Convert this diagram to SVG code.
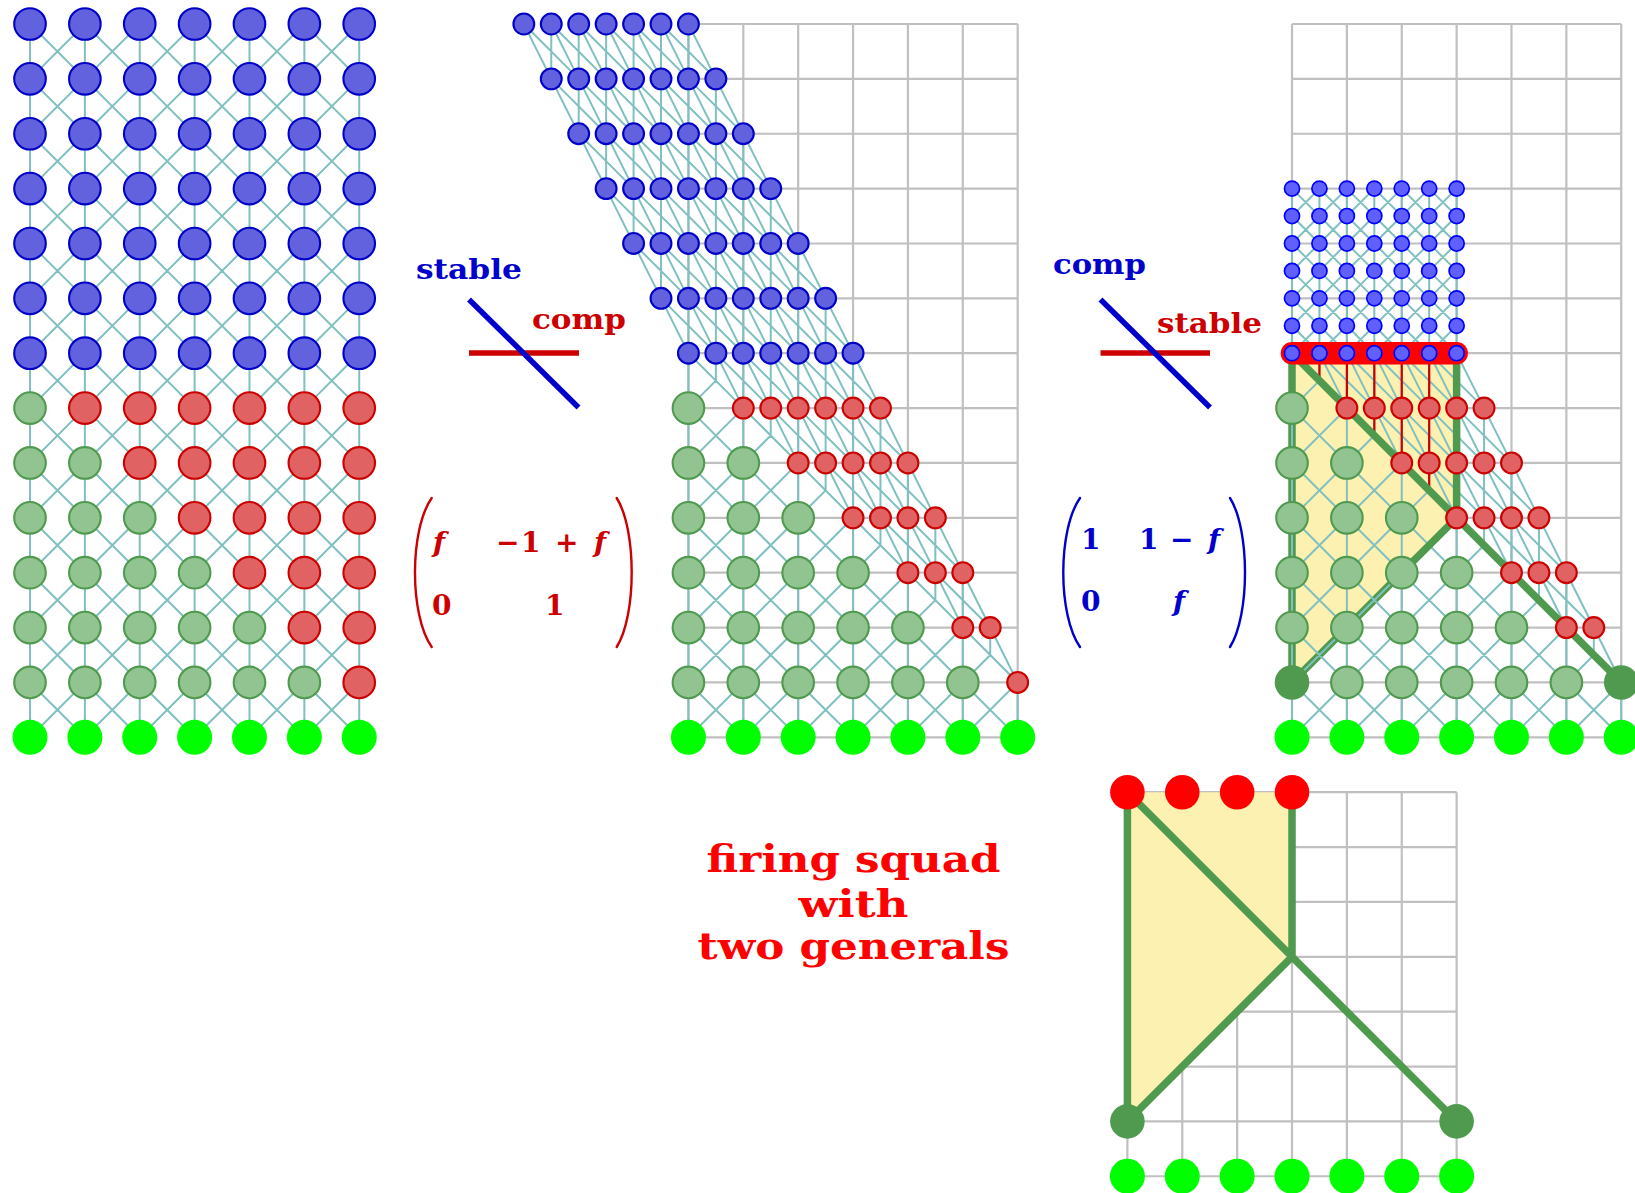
<svg xmlns="http://www.w3.org/2000/svg" xmlns:xlink="http://www.w3.org/1999/xlink" width="1635" height="1193" viewBox="0 0 1635 1193">
<style>
.e{fill:none;stroke:#80c0c0;stroke-width:2px;vector-effect:non-scaling-stroke}
.gr{fill:none;stroke:#c0c0c0;stroke-width:2.2px;vector-effect:non-scaling-stroke}
.th{fill:none;stroke:#4f9a4f;stroke-width:7.5px;stroke-linecap:round;stroke-linejoin:round;vector-effect:non-scaling-stroke}
.rl{fill:none;stroke:#cc0000;stroke-width:2.2px;vector-effect:non-scaling-stroke}
.bar{fill:none;stroke:#ff0000;stroke-width:22.6px;stroke-linecap:round;vector-effect:non-scaling-stroke}
.yl{fill:#fdf1b1}
circle{vector-effect:non-scaling-stroke}
.B{fill:#6262de;stroke:#0000c8;stroke-width:2.1px}
.R{fill:#e06262;stroke:#cc0000;stroke-width:2.1px}
.G{fill:#92c492;stroke:#4f9a4f;stroke-width:2.1px}
.Q{fill:#6060ff;stroke:#0000ff;stroke-width:1.7px}
.L{fill:#00ff00}
.D{fill:#4f9a4f}
.F{fill:#ff0000}
text{font-family:"DejaVu Serif","Liberation Serif",serif;font-weight:bold}
.cr{fill:none;stroke-width:5.5}
.par{fill:none;stroke-width:2.4;stroke-linecap:round}
</style>
<defs>
<path id="L" class="e" d="M0 0V1M1 0V1M2 0V1M3 0V1M4 0V1M5 0V1M6 0V1M0 0L1 1M1 0L2 1M2 0L3 1M3 0L4 1M4 0L5 1M5 0L6 1M1 0L0 1M2 0L1 1M3 0L2 1M4 0L3 1M5 0L4 1M6 0L5 1"/>
<path id="B" class="e" d="M0 0L.5 1M0 0L1 1M.5 0V1M.5 0L1 1M.5 0L1.5 1M1 0V1M1 0L1.5 1M1 0L2 1M1.5 0V1M1.5 0L2 1M1.5 0L2.5 1M2 0V1M2 0L2.5 1M2 0L3 1M2.5 0V1M2.5 0L3 1M2.5 0L3.5 1M3 0V1M3 0L3.5 1"/>
<path id="M" class="e" d="M0 6V7M0 6L1 7M.5 6V6.5L0 7M.5 6L1 7M.5 6L1.5 7M1 6V7M1 6L1.5 7M1 6L2 7M1.5 6V7M1.5 6L2 7M1.5 6L2.5 7M2 6V7M2 6L2.5 7M2 6L3 7M2.5 6V7M2.5 6L3 7M2.5 6L3.5 7M3 6V7M3 6L3.5 7
M0 7V8M0 7L1 8M1 7L0 8M1 7V8M1 7L2 8M1.5 7V7.5L1 8M1.5 7L2 8M1.5 7L2.5 8M2 7V8M2 7L2.5 8M2 7L3 8M2.5 7V8M2.5 7L3 8M2.5 7L3.5 8M3 7V8M3 7L3.5 8M3 7L4 8M3.5 7V8M3.5 7L4 8
M0 8V9M0 8L1 9M1 8L0 9M1 8V9M1 8L2 9M2 8L1 9M2 8V9M2 8L3 9M2.5 8V8.5L2 9M2.5 8L3 9M2.5 8L3.5 9M3 8V9M3 8L3.5 9M3 8L4 9M3.5 8V9M3.5 8L4 9M3.5 8L4.5 9M4 8V9M4 8L4.5 9
M0 9V10M0 9L1 10M1 9L0 10M1 9V10M1 9L2 10M2 9L1 10M2 9V10M2 9L3 10M3 9L2 10M3 9V10M3 9L4 10M3.5 9V9.5L3 10M3.5 9L4 10M3.5 9L4.5 10M4 9V10M4 9L4.5 10M4 9L5 10M4.5 9V10M4.5 9L5 10
M0 10V11M0 10L1 11M1 10L0 11M1 10V11M1 10L2 11M2 10L1 11M2 10V11M2 10L3 11M3 10L2 11M3 10V11M3 10L4 11M4 10L3 11M4 10V11M4 10L5 11M4.5 10V10.5L4 11M4.5 10L5 11M4.5 10L5.5 11M5 10V11M5 10L5.5 11
M0 11V12M0 11L1 12M1 11L0 12M1 11V12M1 11L2 12M2 11L1 12M2 11V12M2 11L3 12M3 11L2 12M3 11V12M3 11L4 12M4 11L3 12M4 11V12M4 11L5 12M5 11L4 12M5 11V12M5 11L6 12M5.5 11V11.5L5 12M5.5 11L6 12"/>
</defs>
<rect width="1635" height="1193" fill="#ffffff"/>
<g transform="translate(30 24) scale(54.87)">
<g id="grid">
<path class="gr" d="M12 0V13M13 0V13M14 0V13M15 0V13M16 0V13M17 0V13M18 0V13M12 0H18M12 1H18M12 2H18M12 3H18M12 4H18M12 5H18M12 6H18M12 7H18M12 8H18M12 9H18M12 10H18M12 11H18M12 12H18M12 13H18"/>
<path class="gr" d="M23 0V13M24 0V13M25 0V13M26 0V13M27 0V13M28 0V13M29 0V13M23 0H29M23 1H29M23 2H29M23 3H29M23 4H29M23 5H29M23 6H29M23 7H29M23 8H29M23 9H29M23 10H29M23 11H29M23 12H29M23 13H29"/>
<path class="gr" d="M20 14V21M21 14V21M22 14V21M23 14V21M24 14V21M25 14V21M26 14V21M20 14H26M20 15H26M20 16H26M20 17H26M20 18H26M20 19H26M20 20H26M20 21H26"/>
</g>
<g id="regions">
<polygon class="yl" points="23,6 26,6 26,9 23,12"/>
<polygon class="yl" points="20,14 23,14 23,17 20,20"/>
<path class="th" d="M23 7V12M25 10L23 12"/>
</g>
<g id="connectors">
<use href="#L" x="0" y="0"/><use href="#L" x="0" y="1"/><use href="#L" x="0" y="2"/><use href="#L" x="0" y="3"/><use href="#L" x="0" y="4"/><use href="#L" x="0" y="5"/><use href="#L" x="0" y="6"/><use href="#L" x="0" y="7"/><use href="#L" x="0" y="8"/><use href="#L" x="0" y="9"/><use href="#L" x="0" y="10"/><use href="#L" x="0" y="11"/><use href="#L" x="0" y="12"/>
<use href="#B" x="9" y="0"/><use href="#B" x="9.5" y="1"/><use href="#B" x="10" y="2"/><use href="#B" x="10.5" y="3"/><use href="#B" x="11" y="4"/><use href="#B" x="11.5" y="5"/>
<use href="#M" x="12" y="0"/><use href="#L" x="12" y="12"/>
<use href="#L" transform="translate(23 3) scale(.5)"/><use href="#L" transform="translate(23 3.5) scale(.5)"/><use href="#L" transform="translate(23 4) scale(.5)"/><use href="#L" transform="translate(23 4.5) scale(.5)"/><use href="#L" transform="translate(23 5) scale(.5)"/><use href="#L" transform="translate(23 5.5) scale(.5)"/>
<use href="#M" x="23" y="0"/><use href="#L" x="23" y="12"/>
<path class="rl" d="M23.5 6V6.5M24 6V7M24.5 6V7.5M25 6V8M25.5 6V8.5M26 6V9"/>
</g>
<g id="highlight">
<path class="th" d="M23 6V7M23 6L29 12M26 6V9L25 10"/>
<path class="th" d="M20 14V20L23 17V14M20 14L26 20"/>
<path class="bar" d="M23 6H26"/>
</g>
<g id="nodes-left">
<g id="a0_0"><circle class="B" cx="0" cy="0" r=".288"/></g><g id="a0_1"><circle class="B" cx="1" cy="0" r=".288"/></g><g id="a0_2"><circle class="B" cx="2" cy="0" r=".288"/></g><g id="a0_3"><circle class="B" cx="3" cy="0" r=".288"/></g><g id="a0_4"><circle class="B" cx="4" cy="0" r=".288"/></g><g id="a0_5"><circle class="B" cx="5" cy="0" r=".288"/></g><g id="a0_6"><circle class="B" cx="6" cy="0" r=".288"/></g>
<g id="a1_0"><circle class="B" cx="0" cy="1" r=".288"/></g><g id="a1_1"><circle class="B" cx="1" cy="1" r=".288"/></g><g id="a1_2"><circle class="B" cx="2" cy="1" r=".288"/></g><g id="a1_3"><circle class="B" cx="3" cy="1" r=".288"/></g><g id="a1_4"><circle class="B" cx="4" cy="1" r=".288"/></g><g id="a1_5"><circle class="B" cx="5" cy="1" r=".288"/></g><g id="a1_6"><circle class="B" cx="6" cy="1" r=".288"/></g>
<g id="a2_0"><circle class="B" cx="0" cy="2" r=".288"/></g><g id="a2_1"><circle class="B" cx="1" cy="2" r=".288"/></g><g id="a2_2"><circle class="B" cx="2" cy="2" r=".288"/></g><g id="a2_3"><circle class="B" cx="3" cy="2" r=".288"/></g><g id="a2_4"><circle class="B" cx="4" cy="2" r=".288"/></g><g id="a2_5"><circle class="B" cx="5" cy="2" r=".288"/></g><g id="a2_6"><circle class="B" cx="6" cy="2" r=".288"/></g>
<g id="a3_0"><circle class="B" cx="0" cy="3" r=".288"/></g><g id="a3_1"><circle class="B" cx="1" cy="3" r=".288"/></g><g id="a3_2"><circle class="B" cx="2" cy="3" r=".288"/></g><g id="a3_3"><circle class="B" cx="3" cy="3" r=".288"/></g><g id="a3_4"><circle class="B" cx="4" cy="3" r=".288"/></g><g id="a3_5"><circle class="B" cx="5" cy="3" r=".288"/></g><g id="a3_6"><circle class="B" cx="6" cy="3" r=".288"/></g>
<g id="a4_0"><circle class="B" cx="0" cy="4" r=".288"/></g><g id="a4_1"><circle class="B" cx="1" cy="4" r=".288"/></g><g id="a4_2"><circle class="B" cx="2" cy="4" r=".288"/></g><g id="a4_3"><circle class="B" cx="3" cy="4" r=".288"/></g><g id="a4_4"><circle class="B" cx="4" cy="4" r=".288"/></g><g id="a4_5"><circle class="B" cx="5" cy="4" r=".288"/></g><g id="a4_6"><circle class="B" cx="6" cy="4" r=".288"/></g>
<g id="a5_0"><circle class="B" cx="0" cy="5" r=".288"/></g><g id="a5_1"><circle class="B" cx="1" cy="5" r=".288"/></g><g id="a5_2"><circle class="B" cx="2" cy="5" r=".288"/></g><g id="a5_3"><circle class="B" cx="3" cy="5" r=".288"/></g><g id="a5_4"><circle class="B" cx="4" cy="5" r=".288"/></g><g id="a5_5"><circle class="B" cx="5" cy="5" r=".288"/></g><g id="a5_6"><circle class="B" cx="6" cy="5" r=".288"/></g>
<g id="a6_0"><circle class="B" cx="0" cy="6" r=".288"/></g><g id="a6_1"><circle class="B" cx="1" cy="6" r=".288"/></g><g id="a6_2"><circle class="B" cx="2" cy="6" r=".288"/></g><g id="a6_3"><circle class="B" cx="3" cy="6" r=".288"/></g><g id="a6_4"><circle class="B" cx="4" cy="6" r=".288"/></g><g id="a6_5"><circle class="B" cx="5" cy="6" r=".288"/></g><g id="a6_6"><circle class="B" cx="6" cy="6" r=".288"/></g>
<g id="a7_0"><circle class="G" cx="0" cy="7" r=".288"/></g><g id="a7_1"><circle class="R" cx="1" cy="7" r=".288"/></g><g id="a7_2"><circle class="R" cx="2" cy="7" r=".288"/></g><g id="a7_3"><circle class="R" cx="3" cy="7" r=".288"/></g><g id="a7_4"><circle class="R" cx="4" cy="7" r=".288"/></g><g id="a7_5"><circle class="R" cx="5" cy="7" r=".288"/></g><g id="a7_6"><circle class="R" cx="6" cy="7" r=".288"/></g>
<g id="a8_0"><circle class="G" cx="0" cy="8" r=".288"/></g><g id="a8_1"><circle class="G" cx="1" cy="8" r=".288"/></g><g id="a8_2"><circle class="R" cx="2" cy="8" r=".288"/></g><g id="a8_3"><circle class="R" cx="3" cy="8" r=".288"/></g><g id="a8_4"><circle class="R" cx="4" cy="8" r=".288"/></g><g id="a8_5"><circle class="R" cx="5" cy="8" r=".288"/></g><g id="a8_6"><circle class="R" cx="6" cy="8" r=".288"/></g>
<g id="a9_0"><circle class="G" cx="0" cy="9" r=".288"/></g><g id="a9_1"><circle class="G" cx="1" cy="9" r=".288"/></g><g id="a9_2"><circle class="G" cx="2" cy="9" r=".288"/></g><g id="a9_3"><circle class="R" cx="3" cy="9" r=".288"/></g><g id="a9_4"><circle class="R" cx="4" cy="9" r=".288"/></g><g id="a9_5"><circle class="R" cx="5" cy="9" r=".288"/></g><g id="a9_6"><circle class="R" cx="6" cy="9" r=".288"/></g>
<g id="a10_0"><circle class="G" cx="0" cy="10" r=".288"/></g><g id="a10_1"><circle class="G" cx="1" cy="10" r=".288"/></g><g id="a10_2"><circle class="G" cx="2" cy="10" r=".288"/></g><g id="a10_3"><circle class="G" cx="3" cy="10" r=".288"/></g><g id="a10_4"><circle class="R" cx="4" cy="10" r=".288"/></g><g id="a10_5"><circle class="R" cx="5" cy="10" r=".288"/></g><g id="a10_6"><circle class="R" cx="6" cy="10" r=".288"/></g>
<g id="a11_0"><circle class="G" cx="0" cy="11" r=".288"/></g><g id="a11_1"><circle class="G" cx="1" cy="11" r=".288"/></g><g id="a11_2"><circle class="G" cx="2" cy="11" r=".288"/></g><g id="a11_3"><circle class="G" cx="3" cy="11" r=".288"/></g><g id="a11_4"><circle class="G" cx="4" cy="11" r=".288"/></g><g id="a11_5"><circle class="R" cx="5" cy="11" r=".288"/></g><g id="a11_6"><circle class="R" cx="6" cy="11" r=".288"/></g>
<g id="a12_0"><circle class="G" cx="0" cy="12" r=".288"/></g><g id="a12_1"><circle class="G" cx="1" cy="12" r=".288"/></g><g id="a12_2"><circle class="G" cx="2" cy="12" r=".288"/></g><g id="a12_3"><circle class="G" cx="3" cy="12" r=".288"/></g><g id="a12_4"><circle class="G" cx="4" cy="12" r=".288"/></g><g id="a12_5"><circle class="G" cx="5" cy="12" r=".288"/></g><g id="a12_6"><circle class="R" cx="6" cy="12" r=".288"/></g>
<g id="a13_0"><circle class="L" cx="0" cy="13" r=".319"/></g><g id="a13_1"><circle class="L" cx="1" cy="13" r=".319"/></g><g id="a13_2"><circle class="L" cx="2" cy="13" r=".319"/></g><g id="a13_3"><circle class="L" cx="3" cy="13" r=".319"/></g><g id="a13_4"><circle class="L" cx="4" cy="13" r=".319"/></g><g id="a13_5"><circle class="L" cx="5" cy="13" r=".319"/></g><g id="a13_6"><circle class="L" cx="6" cy="13" r=".319"/></g>
</g>
<g id="nodes-middle">
<g id="m0_0"><circle class="B" cx="9" cy="0" r=".19"/></g><g id="m0_1"><circle class="B" cx="9.5" cy="0" r=".19"/></g><g id="m0_2"><circle class="B" cx="10" cy="0" r=".19"/></g><g id="m0_3"><circle class="B" cx="10.5" cy="0" r=".19"/></g><g id="m0_4"><circle class="B" cx="11" cy="0" r=".19"/></g><g id="m0_5"><circle class="B" cx="11.5" cy="0" r=".19"/></g><g id="m0_6"><circle class="B" cx="12" cy="0" r=".19"/></g>
<g id="m1_0"><circle class="B" cx="9.5" cy="1" r=".19"/></g><g id="m1_1"><circle class="B" cx="10" cy="1" r=".19"/></g><g id="m1_2"><circle class="B" cx="10.5" cy="1" r=".19"/></g><g id="m1_3"><circle class="B" cx="11" cy="1" r=".19"/></g><g id="m1_4"><circle class="B" cx="11.5" cy="1" r=".19"/></g><g id="m1_5"><circle class="B" cx="12" cy="1" r=".19"/></g><g id="m1_6"><circle class="B" cx="12.5" cy="1" r=".19"/></g>
<g id="m2_0"><circle class="B" cx="10" cy="2" r=".19"/></g><g id="m2_1"><circle class="B" cx="10.5" cy="2" r=".19"/></g><g id="m2_2"><circle class="B" cx="11" cy="2" r=".19"/></g><g id="m2_3"><circle class="B" cx="11.5" cy="2" r=".19"/></g><g id="m2_4"><circle class="B" cx="12" cy="2" r=".19"/></g><g id="m2_5"><circle class="B" cx="12.5" cy="2" r=".19"/></g><g id="m2_6"><circle class="B" cx="13" cy="2" r=".19"/></g>
<g id="m3_0"><circle class="B" cx="10.5" cy="3" r=".19"/></g><g id="m3_1"><circle class="B" cx="11" cy="3" r=".19"/></g><g id="m3_2"><circle class="B" cx="11.5" cy="3" r=".19"/></g><g id="m3_3"><circle class="B" cx="12" cy="3" r=".19"/></g><g id="m3_4"><circle class="B" cx="12.5" cy="3" r=".19"/></g><g id="m3_5"><circle class="B" cx="13" cy="3" r=".19"/></g><g id="m3_6"><circle class="B" cx="13.5" cy="3" r=".19"/></g>
<g id="m4_0"><circle class="B" cx="11" cy="4" r=".19"/></g><g id="m4_1"><circle class="B" cx="11.5" cy="4" r=".19"/></g><g id="m4_2"><circle class="B" cx="12" cy="4" r=".19"/></g><g id="m4_3"><circle class="B" cx="12.5" cy="4" r=".19"/></g><g id="m4_4"><circle class="B" cx="13" cy="4" r=".19"/></g><g id="m4_5"><circle class="B" cx="13.5" cy="4" r=".19"/></g><g id="m4_6"><circle class="B" cx="14" cy="4" r=".19"/></g>
<g id="m5_0"><circle class="B" cx="11.5" cy="5" r=".19"/></g><g id="m5_1"><circle class="B" cx="12" cy="5" r=".19"/></g><g id="m5_2"><circle class="B" cx="12.5" cy="5" r=".19"/></g><g id="m5_3"><circle class="B" cx="13" cy="5" r=".19"/></g><g id="m5_4"><circle class="B" cx="13.5" cy="5" r=".19"/></g><g id="m5_5"><circle class="B" cx="14" cy="5" r=".19"/></g><g id="m5_6"><circle class="B" cx="14.5" cy="5" r=".19"/></g>
<g id="m6_0"><circle class="B" cx="12" cy="6" r=".19"/></g><g id="m6_1"><circle class="B" cx="12.5" cy="6" r=".19"/></g><g id="m6_2"><circle class="B" cx="13" cy="6" r=".19"/></g><g id="m6_3"><circle class="B" cx="13.5" cy="6" r=".19"/></g><g id="m6_4"><circle class="B" cx="14" cy="6" r=".19"/></g><g id="m6_5"><circle class="B" cx="14.5" cy="6" r=".19"/></g><g id="m6_6"><circle class="B" cx="15" cy="6" r=".19"/></g>
<g id="m7_0"><circle class="G" cx="12" cy="7" r=".288"/></g><g id="m7_1"><circle class="R" cx="13" cy="7" r=".19"/></g><g id="m7_2"><circle class="R" cx="13.5" cy="7" r=".19"/></g><g id="m7_3"><circle class="R" cx="14" cy="7" r=".19"/></g><g id="m7_4"><circle class="R" cx="14.5" cy="7" r=".19"/></g><g id="m7_5"><circle class="R" cx="15" cy="7" r=".19"/></g><g id="m7_6"><circle class="R" cx="15.5" cy="7" r=".19"/></g>
<g id="m8_0"><circle class="G" cx="12" cy="8" r=".288"/></g><g id="m8_1"><circle class="G" cx="13" cy="8" r=".288"/></g><g id="m8_2"><circle class="R" cx="14" cy="8" r=".19"/></g><g id="m8_3"><circle class="R" cx="14.5" cy="8" r=".19"/></g><g id="m8_4"><circle class="R" cx="15" cy="8" r=".19"/></g><g id="m8_5"><circle class="R" cx="15.5" cy="8" r=".19"/></g><g id="m8_6"><circle class="R" cx="16" cy="8" r=".19"/></g>
<g id="m9_0"><circle class="G" cx="12" cy="9" r=".288"/></g><g id="m9_1"><circle class="G" cx="13" cy="9" r=".288"/></g><g id="m9_2"><circle class="G" cx="14" cy="9" r=".288"/></g><g id="m9_3"><circle class="R" cx="15" cy="9" r=".19"/></g><g id="m9_4"><circle class="R" cx="15.5" cy="9" r=".19"/></g><g id="m9_5"><circle class="R" cx="16" cy="9" r=".19"/></g><g id="m9_6"><circle class="R" cx="16.5" cy="9" r=".19"/></g>
<g id="m10_0"><circle class="G" cx="12" cy="10" r=".288"/></g><g id="m10_1"><circle class="G" cx="13" cy="10" r=".288"/></g><g id="m10_2"><circle class="G" cx="14" cy="10" r=".288"/></g><g id="m10_3"><circle class="G" cx="15" cy="10" r=".288"/></g><g id="m10_4"><circle class="R" cx="16" cy="10" r=".19"/></g><g id="m10_5"><circle class="R" cx="16.5" cy="10" r=".19"/></g><g id="m10_6"><circle class="R" cx="17" cy="10" r=".19"/></g>
<g id="m11_0"><circle class="G" cx="12" cy="11" r=".288"/></g><g id="m11_1"><circle class="G" cx="13" cy="11" r=".288"/></g><g id="m11_2"><circle class="G" cx="14" cy="11" r=".288"/></g><g id="m11_3"><circle class="G" cx="15" cy="11" r=".288"/></g><g id="m11_4"><circle class="G" cx="16" cy="11" r=".288"/></g><g id="m11_5"><circle class="R" cx="17" cy="11" r=".19"/></g><g id="m11_6"><circle class="R" cx="17.5" cy="11" r=".19"/></g>
<g id="m12_0"><circle class="G" cx="12" cy="12" r=".288"/></g><g id="m12_1"><circle class="G" cx="13" cy="12" r=".288"/></g><g id="m12_2"><circle class="G" cx="14" cy="12" r=".288"/></g><g id="m12_3"><circle class="G" cx="15" cy="12" r=".288"/></g><g id="m12_4"><circle class="G" cx="16" cy="12" r=".288"/></g><g id="m12_5"><circle class="G" cx="17" cy="12" r=".288"/></g><g id="m12_6"><circle class="R" cx="18" cy="12" r=".19"/></g>
<g id="m13_0"><circle class="L" cx="12" cy="13" r=".319"/></g><g id="m13_1"><circle class="L" cx="13" cy="13" r=".319"/></g><g id="m13_2"><circle class="L" cx="14" cy="13" r=".319"/></g><g id="m13_3"><circle class="L" cx="15" cy="13" r=".319"/></g><g id="m13_4"><circle class="L" cx="16" cy="13" r=".319"/></g><g id="m13_5"><circle class="L" cx="17" cy="13" r=".319"/></g><g id="m13_6"><circle class="L" cx="18" cy="13" r=".319"/></g>
</g>
<g id="nodes-right">
<g id="r0_0"><circle class="Q" cx="23" cy="3" r=".1376"/></g><g id="r0_1"><circle class="Q" cx="23.5" cy="3" r=".1376"/></g><g id="r0_2"><circle class="Q" cx="24" cy="3" r=".1376"/></g><g id="r0_3"><circle class="Q" cx="24.5" cy="3" r=".1376"/></g><g id="r0_4"><circle class="Q" cx="25" cy="3" r=".1376"/></g><g id="r0_5"><circle class="Q" cx="25.5" cy="3" r=".1376"/></g><g id="r0_6"><circle class="Q" cx="26" cy="3" r=".1376"/></g>
<g id="r1_0"><circle class="Q" cx="23" cy="3.5" r=".1376"/></g><g id="r1_1"><circle class="Q" cx="23.5" cy="3.5" r=".1376"/></g><g id="r1_2"><circle class="Q" cx="24" cy="3.5" r=".1376"/></g><g id="r1_3"><circle class="Q" cx="24.5" cy="3.5" r=".1376"/></g><g id="r1_4"><circle class="Q" cx="25" cy="3.5" r=".1376"/></g><g id="r1_5"><circle class="Q" cx="25.5" cy="3.5" r=".1376"/></g><g id="r1_6"><circle class="Q" cx="26" cy="3.5" r=".1376"/></g>
<g id="r2_0"><circle class="Q" cx="23" cy="4" r=".1376"/></g><g id="r2_1"><circle class="Q" cx="23.5" cy="4" r=".1376"/></g><g id="r2_2"><circle class="Q" cx="24" cy="4" r=".1376"/></g><g id="r2_3"><circle class="Q" cx="24.5" cy="4" r=".1376"/></g><g id="r2_4"><circle class="Q" cx="25" cy="4" r=".1376"/></g><g id="r2_5"><circle class="Q" cx="25.5" cy="4" r=".1376"/></g><g id="r2_6"><circle class="Q" cx="26" cy="4" r=".1376"/></g>
<g id="r3_0"><circle class="Q" cx="23" cy="4.5" r=".1376"/></g><g id="r3_1"><circle class="Q" cx="23.5" cy="4.5" r=".1376"/></g><g id="r3_2"><circle class="Q" cx="24" cy="4.5" r=".1376"/></g><g id="r3_3"><circle class="Q" cx="24.5" cy="4.5" r=".1376"/></g><g id="r3_4"><circle class="Q" cx="25" cy="4.5" r=".1376"/></g><g id="r3_5"><circle class="Q" cx="25.5" cy="4.5" r=".1376"/></g><g id="r3_6"><circle class="Q" cx="26" cy="4.5" r=".1376"/></g>
<g id="r4_0"><circle class="Q" cx="23" cy="5" r=".1376"/></g><g id="r4_1"><circle class="Q" cx="23.5" cy="5" r=".1376"/></g><g id="r4_2"><circle class="Q" cx="24" cy="5" r=".1376"/></g><g id="r4_3"><circle class="Q" cx="24.5" cy="5" r=".1376"/></g><g id="r4_4"><circle class="Q" cx="25" cy="5" r=".1376"/></g><g id="r4_5"><circle class="Q" cx="25.5" cy="5" r=".1376"/></g><g id="r4_6"><circle class="Q" cx="26" cy="5" r=".1376"/></g>
<g id="r5_0"><circle class="Q" cx="23" cy="5.5" r=".1376"/></g><g id="r5_1"><circle class="Q" cx="23.5" cy="5.5" r=".1376"/></g><g id="r5_2"><circle class="Q" cx="24" cy="5.5" r=".1376"/></g><g id="r5_3"><circle class="Q" cx="24.5" cy="5.5" r=".1376"/></g><g id="r5_4"><circle class="Q" cx="25" cy="5.5" r=".1376"/></g><g id="r5_5"><circle class="Q" cx="25.5" cy="5.5" r=".1376"/></g><g id="r5_6"><circle class="Q" cx="26" cy="5.5" r=".1376"/></g>
<g id="r6_0"><circle class="Q" cx="23" cy="6" r=".1376"/></g><g id="r6_1"><circle class="Q" cx="23.5" cy="6" r=".1376"/></g><g id="r6_2"><circle class="Q" cx="24" cy="6" r=".1376"/></g><g id="r6_3"><circle class="Q" cx="24.5" cy="6" r=".1376"/></g><g id="r6_4"><circle class="Q" cx="25" cy="6" r=".1376"/></g><g id="r6_5"><circle class="Q" cx="25.5" cy="6" r=".1376"/></g><g id="r6_6"><circle class="Q" cx="26" cy="6" r=".1376"/></g>
<g id="r7_0"><circle class="G" cx="23" cy="7" r=".288"/></g><g id="r7_1"><circle class="R" cx="24" cy="7" r=".19"/></g><g id="r7_2"><circle class="R" cx="24.5" cy="7" r=".19"/></g><g id="r7_3"><circle class="R" cx="25" cy="7" r=".19"/></g><g id="r7_4"><circle class="R" cx="25.5" cy="7" r=".19"/></g><g id="r7_5"><circle class="R" cx="26" cy="7" r=".19"/></g><g id="r7_6"><circle class="R" cx="26.5" cy="7" r=".19"/></g>
<g id="r8_0"><circle class="G" cx="23" cy="8" r=".288"/></g><g id="r8_1"><circle class="G" cx="24" cy="8" r=".288"/></g><g id="r8_2"><circle class="R" cx="25" cy="8" r=".19"/></g><g id="r8_3"><circle class="R" cx="25.5" cy="8" r=".19"/></g><g id="r8_4"><circle class="R" cx="26" cy="8" r=".19"/></g><g id="r8_5"><circle class="R" cx="26.5" cy="8" r=".19"/></g><g id="r8_6"><circle class="R" cx="27" cy="8" r=".19"/></g>
<g id="r9_0"><circle class="G" cx="23" cy="9" r=".288"/></g><g id="r9_1"><circle class="G" cx="24" cy="9" r=".288"/></g><g id="r9_2"><circle class="G" cx="25" cy="9" r=".288"/></g><g id="r9_3"><circle class="R" cx="26" cy="9" r=".19"/></g><g id="r9_4"><circle class="R" cx="26.5" cy="9" r=".19"/></g><g id="r9_5"><circle class="R" cx="27" cy="9" r=".19"/></g><g id="r9_6"><circle class="R" cx="27.5" cy="9" r=".19"/></g>
<g id="r10_0"><circle class="G" cx="23" cy="10" r=".288"/></g><g id="r10_1"><circle class="G" cx="24" cy="10" r=".288"/></g><g id="r10_2"><circle class="G" cx="25" cy="10" r=".288"/></g><g id="r10_3"><circle class="G" cx="26" cy="10" r=".288"/></g><g id="r10_4"><circle class="R" cx="27" cy="10" r=".19"/></g><g id="r10_5"><circle class="R" cx="27.5" cy="10" r=".19"/></g><g id="r10_6"><circle class="R" cx="28" cy="10" r=".19"/></g>
<g id="r11_0"><circle class="G" cx="23" cy="11" r=".288"/></g><g id="r11_1"><circle class="G" cx="24" cy="11" r=".288"/></g><g id="r11_2"><circle class="G" cx="25" cy="11" r=".288"/></g><g id="r11_3"><circle class="G" cx="26" cy="11" r=".288"/></g><g id="r11_4"><circle class="G" cx="27" cy="11" r=".288"/></g><g id="r11_5"><circle class="R" cx="28" cy="11" r=".19"/></g><g id="r11_6"><circle class="R" cx="28.5" cy="11" r=".19"/></g>
<g id="r12_0"><circle class="D" cx="23" cy="12" r=".315"/></g><g id="r12_1"><circle class="G" cx="24" cy="12" r=".288"/></g><g id="r12_2"><circle class="G" cx="25" cy="12" r=".288"/></g><g id="r12_3"><circle class="G" cx="26" cy="12" r=".288"/></g><g id="r12_4"><circle class="G" cx="27" cy="12" r=".288"/></g><g id="r12_5"><circle class="G" cx="28" cy="12" r=".288"/></g><g id="r12_6"><circle class="D" cx="29" cy="12" r=".315"/></g>
<g id="r13_0"><circle class="L" cx="23" cy="13" r=".319"/></g><g id="r13_1"><circle class="L" cx="24" cy="13" r=".319"/></g><g id="r13_2"><circle class="L" cx="25" cy="13" r=".319"/></g><g id="r13_3"><circle class="L" cx="26" cy="13" r=".319"/></g><g id="r13_4"><circle class="L" cx="27" cy="13" r=".319"/></g><g id="r13_5"><circle class="L" cx="28" cy="13" r=".319"/></g><g id="r13_6"><circle class="L" cx="29" cy="13" r=".319"/></g>
</g>
<g id="nodes-bottom">
<g id="b14_0"><circle class="F" cx="20" cy="14" r=".315"/></g><g id="b14_1"><circle class="F" cx="21" cy="14" r=".315"/></g><g id="b14_2"><circle class="F" cx="22" cy="14" r=".315"/></g><g id="b14_3"><circle class="F" cx="23" cy="14" r=".315"/></g>
<g id="b20_0"><circle class="D" cx="20" cy="20" r=".315"/></g><g id="b20_6"><circle class="D" cx="26" cy="20" r=".315"/></g>
<g id="b21_0"><circle class="L" cx="20" cy="21" r=".319"/></g><g id="b21_1"><circle class="L" cx="21" cy="21" r=".319"/></g><g id="b21_2"><circle class="L" cx="22" cy="21" r=".319"/></g><g id="b21_3"><circle class="L" cx="23" cy="21" r=".319"/></g><g id="b21_4"><circle class="L" cx="24" cy="21" r=".319"/></g><g id="b21_5"><circle class="L" cx="25" cy="21" r=".319"/></g><g id="b21_6"><circle class="L" cx="26" cy="21" r=".319"/></g>
</g>
</g>
<g id="cross-left">
<line class="cr" x1="469" y1="353" x2="579" y2="353" stroke="#cc0000"/>
<line class="cr" x1="469" y1="299.5" x2="578.5" y2="407.5" stroke="#0000cc"/>
<text x="416" y="279" fill="#0000cc" font-size="27" textLength="106" lengthAdjust="spacingAndGlyphs">stable</text>
<text x="532" y="329" fill="#cc0000" font-size="27" textLength="94" lengthAdjust="spacingAndGlyphs">comp</text>
</g>
<g id="cross-right">
<line class="cr" x1="1100.5" y1="353" x2="1210" y2="353" stroke="#cc0000"/>
<line class="cr" x1="1100.5" y1="299.5" x2="1210" y2="407.5" stroke="#0000cc"/>
<text x="1053" y="274" fill="#0000cc" font-size="27" textLength="93" lengthAdjust="spacingAndGlyphs">comp</text>
<text x="1157" y="333" fill="#cc0000" font-size="27" textLength="105" lengthAdjust="spacingAndGlyphs">stable</text>
</g>
<g id="matrix-red" fill="#cc0000">
<path class="par" stroke="#cc0000" d="M431.7 498C409.4 530 409.4 615 431.7 647"/>
<path class="par" stroke="#cc0000" d="M616.7 498C636.7 530 636.7 615 616.7 647"/>
<text font-size="28"><tspan x="433" y="552" font-style="italic">f</tspan><tspan x="496" y="552">−</tspan><tspan x="521" y="552">1</tspan><tspan x="555" y="552">+</tspan><tspan x="594" y="552" font-style="italic">f</tspan></text>
<text font-size="28"><tspan x="432" y="615">0</tspan><tspan x="545" y="615">1</tspan></text>
</g>
<g id="matrix-blue" fill="#0000cc">
<path class="par" stroke="#0000cc" d="M1080 498C1057.7 530 1057.7 615 1080 647"/>
<path class="par" stroke="#0000cc" d="M1230 498C1250 530 1250 615 1230 647"/>
<text font-size="28"><tspan x="1081" y="549">1</tspan><tspan x="1139" y="549">1</tspan><tspan x="1170" y="549">−</tspan><tspan x="1208" y="549" font-style="italic">f</tspan></text>
<text font-size="28"><tspan x="1081" y="611">0</tspan><tspan x="1173" y="611" font-style="italic">f</tspan></text>
</g>
<g id="title" fill="#ff0000" font-size="38" text-anchor="middle">
<text x="853.5" y="872" textLength="294" lengthAdjust="spacingAndGlyphs">firing squad</text>
<text x="853.5" y="917" textLength="110" lengthAdjust="spacingAndGlyphs">with</text>
<text x="853.5" y="959" textLength="312" lengthAdjust="spacingAndGlyphs">two generals</text>
</g>
</svg>
